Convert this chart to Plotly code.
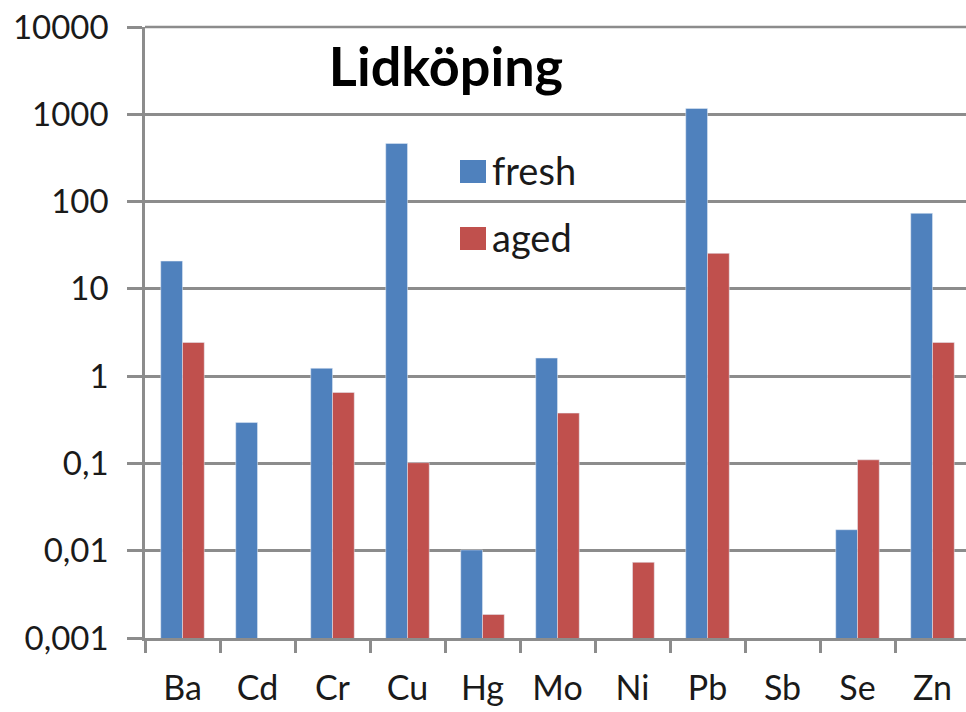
import plotly.graph_objects as go

elements = ["Ba", "Cd", "Cr", "Cu", "Hg", "Mo", "Ni", "Pb", "Sb", "Se", "Zn"]
fresh = [20.8, 0.294, 1.23, 463, 0.0102, 1.61, None, 1165, None, 0.0174, 73.3]
aged = [2.43, None, 0.65, 0.102, 0.00186, 0.377, 0.00736, 25.5, None, 0.110, 2.43]
ytick_vals = [0.001, 0.01, 0.1, 1, 10, 100, 1000, 10000]
ytick_text = ["0,001", "0,01", "0,1", "1", "10", "100", "1000", "10000"]

BLUE = "#4F81BD"
RED = "#C0504D"
GRID = "#8C8C8C"
TXT = "#1a1a1a"
FONT = "Lato"

W, H = 966, 712
L, R, T, B = 145, 0, 27, 74

fig = go.Figure()
fig.add_trace(go.Bar(x=elements, y=fresh, name="fresh", marker_color=BLUE, showlegend=False))
fig.add_trace(go.Bar(x=elements, y=aged, name="aged", marker_color=RED, showlegend=False))

pw = W - L - R
ph = H - T - B

def px_x(p):
    return (p - L) / pw

def px_y(p):
    return (H - B - p) / ph

# top gridline (plotly omits the gridline on the plot edge)
fig.add_shape(type="line", xref="paper", yref="paper", x0=0, x1=1, y0=1, y1=1,
              line=dict(color=GRID, width=2.5), layer="below")

# custom legend (large squares)
legend_items = [("fresh", BLUE, 160), ("aged", RED, 227)]
for label, col, top in legend_items:
    fig.add_shape(type="rect", xref="paper", yref="paper",
                  x0=px_x(460), x1=px_x(486), y0=px_y(top + 23), y1=px_y(top),
                  fillcolor=col, line_width=0)
    fig.add_annotation(text=label, xref="paper", yref="paper",
                       x=px_x(490), y=px_y(top + 10), xanchor="left", yanchor="middle",
                       showarrow=False, font=dict(family=FONT, size=38, color=TXT))

fig.update_layout(
    width=W, height=H,
    margin=dict(l=L, r=R, t=T, b=B, autoexpand=False),
    paper_bgcolor="white", plot_bgcolor="white",
    barmode="group", bargap=0.42, bargroupgap=0,
    font=dict(family=FONT, size=34, color=TXT),
    title=dict(text="<b>Lidköping</b>", xref="container", yref="container",
               x=446 / W, y=1 - 67 / H, xanchor="center", yanchor="middle",
               font=dict(family=FONT, size=54, color="black")),
    showlegend=False,
)
fig.update_xaxes(
    range=[-0.5, -0.5 + pw / 75.0], automargin=False,
    showline=True, linecolor=GRID, linewidth=2.5,
    ticks="outside", tickson="boundaries", ticklen=12, tickwidth=2.5, tickcolor=GRID,
    showgrid=False, tickfont=dict(family=FONT, size=34, color=TXT),
    ticklabelstandoff=18,
)
fig.update_yaxes(
    type="log", range=[-3, 4], automargin=False,
    tickvals=ytick_vals, ticktext=ytick_text,
    showline=True, linecolor=GRID, linewidth=2.5,
    ticks="outside", ticklen=15, tickwidth=2.5, tickcolor=GRID,
    showgrid=True, gridcolor=GRID, gridwidth=2.5,
    zeroline=False, tickfont=dict(family=FONT, size=33, color=TXT),
    ticklabelstandoff=12,
)

fig.write_html("out.html", config={"displayModeBar": False},
               post_script="document.body.style.margin='0';document.body.style.overflow='hidden';")
